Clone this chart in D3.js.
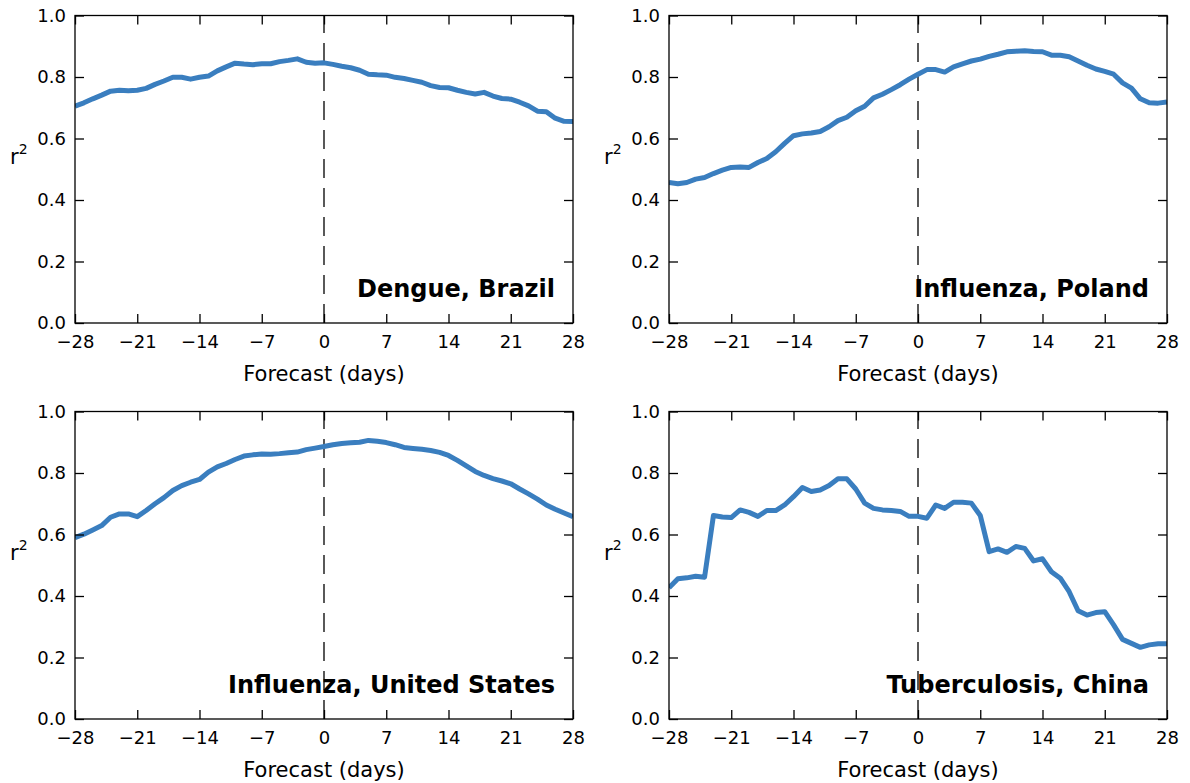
<!DOCTYPE html>
<html>
<head>
<meta charset="utf-8">
<script src="https://cdn.jsdelivr.net/npm/d3@7"></script>
<style>
  body { margin: 0; background: #fff; }
  svg { display: block; font-family: "DejaVu Sans", sans-serif; }
</style>
</head>
<body>
<svg id="chart" width="1190" height="783"></svg>
<script>
// forecast offset in days (x axis)
var days = [-28, -27, -26, -25, -24, -23, -22, -21, -20, -19, -18, -17, -16, -15, -14, -13, -12, -11, -10,
  -9, -8, -7, -6, -5, -4, -3, -2, -1, 0, 1, 2, 3, 4, 5, 6, 7, 8, 9, 10,
  11, 12, 13, 14, 15, 16, 17, 18, 19, 20, 21, 22, 23, 24, 25, 26, 27, 28];

// r^2 per day
var dengueBrazil = [0.705, 0.716, 0.729, 0.741, 0.754, 0.757, 0.755, 0.757, 0.763, 0.776, 0.787, 0.799, 0.799, 0.793,
  0.799, 0.803, 0.820, 0.833, 0.845, 0.842, 0.840, 0.843, 0.843, 0.850, 0.854, 0.859, 0.848, 0.845, 0.846,
  0.841, 0.835, 0.830, 0.822, 0.809, 0.807, 0.806, 0.799, 0.795, 0.789, 0.783, 0.772, 0.766, 0.765, 0.757,
  0.750, 0.745, 0.750, 0.738, 0.730, 0.728, 0.718, 0.706, 0.689, 0.687, 0.666, 0.656, 0.655];

var influenzaPoland = [0.457, 0.453, 0.457, 0.468, 0.473, 0.486, 0.497, 0.506, 0.507, 0.506, 0.522, 0.535, 0.557, 0.584,
  0.609, 0.615, 0.618, 0.623, 0.638, 0.658, 0.669, 0.690, 0.705, 0.732, 0.744, 0.759, 0.775, 0.793, 0.809,
  0.824, 0.824, 0.816, 0.833, 0.843, 0.852, 0.858, 0.867, 0.874, 0.882, 0.884, 0.885, 0.883, 0.882, 0.871,
  0.871, 0.866, 0.852, 0.838, 0.826, 0.818, 0.809, 0.781, 0.764, 0.729, 0.716, 0.715, 0.719];

var influenzaUS = [0.590, 0.601, 0.615, 0.629, 0.656, 0.667, 0.667, 0.658, 0.678, 0.700, 0.720, 0.743, 0.759, 0.770,
  0.779, 0.803, 0.820, 0.831, 0.844, 0.855, 0.859, 0.862, 0.861, 0.863, 0.866, 0.868, 0.876, 0.881, 0.886,
  0.892, 0.896, 0.898, 0.900, 0.906, 0.903, 0.899, 0.892, 0.883, 0.880, 0.877, 0.873, 0.867, 0.857, 0.841,
  0.823, 0.805, 0.792, 0.782, 0.774, 0.765, 0.748, 0.732, 0.715, 0.696, 0.682, 0.670, 0.658];

var tuberculosisChina = [0.427, 0.456, 0.459, 0.464, 0.461, 0.662, 0.657, 0.655, 0.680, 0.672, 0.659, 0.678, 0.678, 0.696,
  0.723, 0.753, 0.740, 0.745, 0.759, 0.781, 0.781, 0.748, 0.702, 0.685, 0.680, 0.678, 0.675, 0.659, 0.659,
  0.653, 0.696, 0.685, 0.705, 0.705, 0.702, 0.662, 0.544, 0.553, 0.542, 0.561, 0.555, 0.514, 0.521, 0.479,
  0.458, 0.414, 0.352, 0.338, 0.346, 0.349, 0.306, 0.259, 0.246, 0.233, 0.241, 0.245, 0.245];

var panelTitles = ["Dengue, Brazil", "Influenza, Poland", "Influenza, United States", "Tuberculosis, China"];
var xTicks = [-28, -21, -14, -7, 0, 7, 14, 21, 28];
var yTicks = [0.0, 0.2, 0.4, 0.6, 0.8, 1.0];

var series = [dengueBrazil, influenzaPoland, influenzaUS, tuberculosisChina];
var origins = [[75, 15.5], [669, 15.5], [75, 411.5], [669, 411.5]];
var W = 498, H = 307.5;

var svg = d3.select("#chart");

var x = d3.scaleLinear().domain([-28, 28]).range([0, W]);
var y = d3.scaleLinear().domain([0, 1]).range([H, 0]);

var fmtX = function(d) { return d < 0 ? "\u2212" + Math.abs(d) : String(d); };

series.forEach(function(vals, i) {
  var g = svg.append("g")
    .attr("transform", "translate(" + origins[i][0] + "," + origins[i][1] + ")");

  g.append("clipPath").attr("id", "clip" + i)
    .append("rect").attr("width", W).attr("height", H);

  // dashed line at day 0, drawn from the bottom up
  g.append("line")
    .attr("x1", x(0)).attr("x2", x(0))
    .attr("y1", y(0)).attr("y2", y(1))
    .attr("stroke", "#000")
    .attr("stroke-width", 1.3)
    .attr("stroke-dasharray", "19,10");

  var line = d3.line()
    .x(function(d, j) { return x(days[j]); })
    .y(function(d) { return y(d); });

  g.append("path")
    .datum(vals)
    .attr("clip-path", "url(#clip" + i + ")")
    .attr("fill", "none")
    .attr("stroke", "#3a7ebf")
    .attr("stroke-width", 5)
    .attr("stroke-linejoin", "round")
    .attr("d", line);

  // axes: ticks point inward on every side
  g.append("g").attr("transform", "translate(0," + H + ")")
    .call(d3.axisBottom(x).tickValues(xTicks).tickFormat(fmtX).tickSizeInner(-9).tickSizeOuter(0).tickPadding(12));
  g.append("g")
    .call(d3.axisLeft(y).tickValues(yTicks).tickFormat(d3.format(".1f")).tickSizeInner(-9).tickSizeOuter(0).tickPadding(9));
  g.append("g")
    .call(d3.axisTop(x).tickValues(xTicks).tickFormat("").tickSizeInner(-9).tickSizeOuter(0));
  g.append("g").attr("transform", "translate(" + W + ",0)")
    .call(d3.axisRight(y).tickValues(yTicks).tickFormat("").tickSizeInner(-9).tickSizeOuter(0));

  g.selectAll(".domain").remove();
  g.selectAll(".tick line").attr("stroke", "#000").attr("stroke-width", 1.3);
  g.selectAll(".tick text")
    .attr("fill", "#000")
    .style("font-family", "DejaVu Sans")
    .style("font-size", "18px");

  g.append("rect")
    .attr("width", W).attr("height", H)
    .attr("fill", "none")
    .attr("stroke", "#000")
    .attr("stroke-width", 1.3);

  g.append("text")
    .attr("x", W / 2)
    .attr("y", H + 58)
    .attr("text-anchor", "middle")
    .style("font-size", "21px")
    .text("Forecast (days)");

  var yl = g.append("text")
    .attr("x", -65)
    .attr("y", 148)
    .style("font-size", "21px")
    .text("r");
  yl.append("tspan")
    .attr("dy", -10)
    .style("font-size", "14px")
    .text("2");

  g.append("text")
    .attr("x", W - 18)
    .attr("y", H - 26.5)
    .attr("text-anchor", "end")
    .style("font-size", "24px")
    .style("font-weight", "bold")
    .text(panelTitles[i]);
});
</script>
</body>
</html>
